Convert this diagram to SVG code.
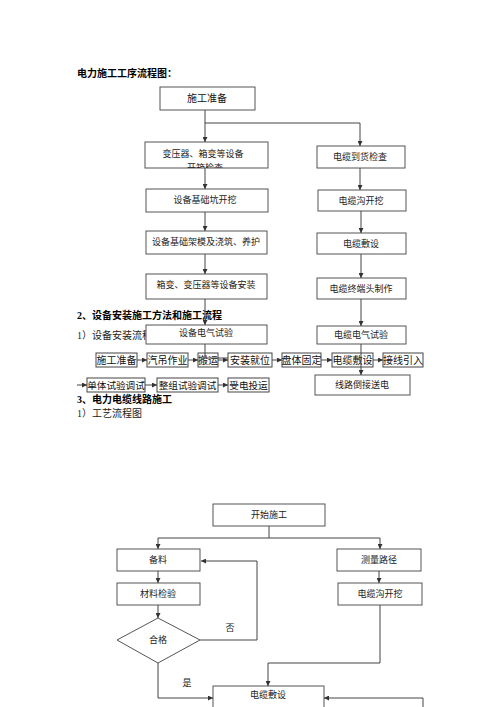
<svg xmlns="http://www.w3.org/2000/svg" width="500" height="707" viewBox="0 0 500 707">
<defs>
<style>
.bx{fill:#fff;stroke:#555;stroke-width:1}
.rb{fill:none;stroke:#444;stroke-width:1}
.t{font-family:"Liberation Serif","Noto Sans CJK SC",serif;font-size:9px;fill:#222;text-anchor:middle}
.r{font-family:"Liberation Serif","Noto Sans CJK SC",serif;font-size:10px;fill:#111;text-anchor:middle}
.r2{font-family:"Liberation Serif","Noto Sans CJK SC",serif;font-size:9.6px;fill:#111;text-anchor:middle}
.h{font-family:"Liberation Serif","Noto Sans CJK SC",serif;font-size:10px;font-weight:bold;fill:#000}
.p{font-family:"Liberation Serif","Noto Sans CJK SC",serif;font-size:10px;fill:#222}
.c{fill:none;stroke:#444;stroke-width:1}
</style>
<marker id="a" viewBox="0 0 6 6" refX="6" refY="3" markerWidth="5" markerHeight="5" markerUnits="userSpaceOnUse" orient="auto">
<path d="M0,0L6,3L0,6z" fill="#333"/>
</marker>
<clipPath id="clipk"><rect x="145" y="142" width="123" height="26"/></clipPath>
</defs>
<rect width="500" height="707" fill="#fff"/>

<g id="texts">
<text class="h" x="77" y="77">电力施工工序流程图：</text>
<text class="h" x="77" y="319">2、设备安装施工方法和施工流程</text>
<text class="p" x="77" y="339">1）设备安装流程</text>
<text class="h" x="77" y="403">3、电力电缆线路施工</text>
<text class="p" x="77" y="417">1）工艺流程图</text>
</g>

<g id="n1"><rect class="bx" x="160" y="87" width="95" height="23"/><text class="r" x="207" y="102">施工准备</text></g>
<g id="n2"><rect class="bx" x="145" y="142" width="123" height="26"/><text class="t" x="203" y="157">变压器、箱变等设备</text><text class="t" x="205" y="171" clip-path="url(#clipk)">开箱检查</text></g>
<g id="n3"><rect class="bx" x="146" y="189" width="122" height="23"/><text class="t" x="205" y="203">设备基础坑开挖</text></g>
<g id="n4"><rect class="bx" x="146" y="231" width="121" height="23"/><text class="t" x="206" y="245">设备基础架模及浇筑、养护</text></g>
<g id="n5"><rect class="bx" x="146" y="274" width="121" height="25"/><text class="t" x="206" y="288">箱变、变压器等设备安装</text></g>
<g id="n6"><rect class="bx" x="146" y="325" width="121" height="19"/><text class="t" x="206" y="336">设备电气试验</text></g>

<g id="m1"><rect class="bx" x="317" y="146" width="88" height="22"/><text class="t" x="360" y="160">电缆到货检查</text></g>
<g id="m2"><rect class="bx" x="318" y="190" width="88" height="21"/><text class="t" x="361" y="204">电缆沟开挖</text></g>
<g id="m3"><rect class="bx" x="317" y="233" width="89" height="21"/><text class="t" x="361" y="247">电缆敷设</text></g>
<g id="m4"><rect class="bx" x="317" y="278" width="89" height="21"/><text class="t" x="361" y="292">电缆终端头制作</text></g>
<g id="m5"><rect class="bx" x="317" y="326" width="89" height="18"/><text class="t" x="361" y="338">电缆电气试验</text></g>
<g id="m6"><rect class="bx" x="315" y="375" width="95" height="20"/><text class="t" x="362" y="388">线路倒接送电</text></g>

<g id="row1">
<rect class="rb" x="96" y="353" width="41" height="14"/><text class="r" x="116.5" y="364">施工准备</text>
<rect class="rb" x="147" y="353" width="41" height="14"/><text class="r" x="167.5" y="364">汽吊作业</text>
<rect class="rb" x="198" y="353" width="20" height="14"/><text class="r" x="208" y="364">搬运</text>
<rect class="rb" x="228" y="353" width="44" height="14"/><text class="r" x="250" y="364">安装就位</text>
<rect class="rb" x="282" y="353" width="39" height="14"/><text class="r" x="301.5" y="364">盘体固定</text>
<rect class="rb" x="332" y="353" width="41" height="14"/><text class="r" x="352.5" y="364">电缆敷设</text>
<rect class="rb" x="383" y="353" width="40" height="14"/><text class="r" x="403" y="364">接线引入</text>
</g>
<g id="row2">
<rect class="rb" x="87" y="378" width="58" height="14"/><text class="r2" x="116" y="389">单体试验调试</text>
<rect class="rb" x="157" y="378" width="61" height="14"/><text class="r2" x="187.5" y="389">整组试验调试</text>
<rect class="rb" x="228" y="378" width="41" height="14"/><text class="r2" x="248.5" y="389">受电投运</text>
</g>

<g id="l1"><rect class="bx" x="213" y="504" width="112" height="22"/><text class="t" x="269" y="518">开始施工</text></g>
<g id="l2"><rect class="bx" x="117" y="549" width="83" height="22"/><text class="t" x="158" y="563">备料</text></g>
<g id="l3"><rect class="bx" x="117" y="583" width="83" height="22"/><text class="t" x="158" y="597">材料检验</text></g>
<g id="l4"><path class="bx" d="M158,618L200,640L158,663L117,640z"/><text class="t" x="158" y="643">合格</text></g>
<g id="l5"><rect class="bx" x="337" y="549" width="84" height="22"/><text class="t" x="379" y="563">测量路径</text></g>
<g id="l6"><rect class="bx" x="338" y="583" width="84" height="22"/><text class="t" x="380" y="597">电缆沟开挖</text></g>
<g id="l7"><rect class="bx" x="213" y="686" width="111" height="30"/><text class="t" x="268" y="698">电缆敷设</text></g>
<g id="labels"><text class="t" x="230" y="631">否</text><text class="t" x="187" y="686">是</text></g>

<g id="connectors">
<path class="c" d="M205,110V142" marker-end="url(#a)"/>
<path class="c" d="M205,123H360V146" marker-end="url(#a)"/>
<path class="c" d="M205,168V189" marker-end="url(#a)"/>
<path class="c" d="M205,212V231" marker-end="url(#a)"/>
<path class="c" d="M205,254V274" marker-end="url(#a)"/>
<path class="c" d="M205,299V325" marker-end="url(#a)"/>
<path class="c" d="M205,344V358H228"/>
<path class="c" d="M360,168V190" marker-end="url(#a)"/>
<path class="c" d="M361,211V233" marker-end="url(#a)"/>
<path class="c" d="M361,254V278" marker-end="url(#a)"/>
<path class="c" d="M361,299V326" marker-end="url(#a)"/>
<path class="c" d="M361,344V375" marker-end="url(#a)"/>
<path class="c" d="M137,360H147" marker-end="url(#a)"/>
<path class="c" d="M188,360H198" marker-end="url(#a)"/>
<path class="c" d="M218,360H228" marker-end="url(#a)"/>
<path class="c" d="M272,360H282" marker-end="url(#a)"/>
<path class="c" d="M321,360H332" marker-end="url(#a)"/>
<path class="c" d="M373,360H383" marker-end="url(#a)"/>
<path class="c" d="M77,385H87" marker-end="url(#a)"/>
<path class="c" d="M145,385H157" marker-end="url(#a)"/>
<path class="c" d="M218,385H228" marker-end="url(#a)"/>
<path class="c" d="M269,526V538" />
<path class="c" d="M269,538H158V549" marker-end="url(#a)"/>
<path class="c" d="M269,538H380V549" marker-end="url(#a)"/>
<path class="c" d="M158,571V583" marker-end="url(#a)"/>
<path class="c" d="M158,605V618" marker-end="url(#a)"/>
<path class="c" d="M379,571V583" marker-end="url(#a)"/>
<path class="c" d="M200,640H257V561H201" marker-end="url(#a)"/>
<path class="c" d="M158,663V698H213" marker-end="url(#a)"/>
<path class="c" d="M380,605V663H268V686" marker-end="url(#a)"/>
<path class="c" d="M423,707V698H324" marker-end="url(#a)"/>
</g>
</svg>
